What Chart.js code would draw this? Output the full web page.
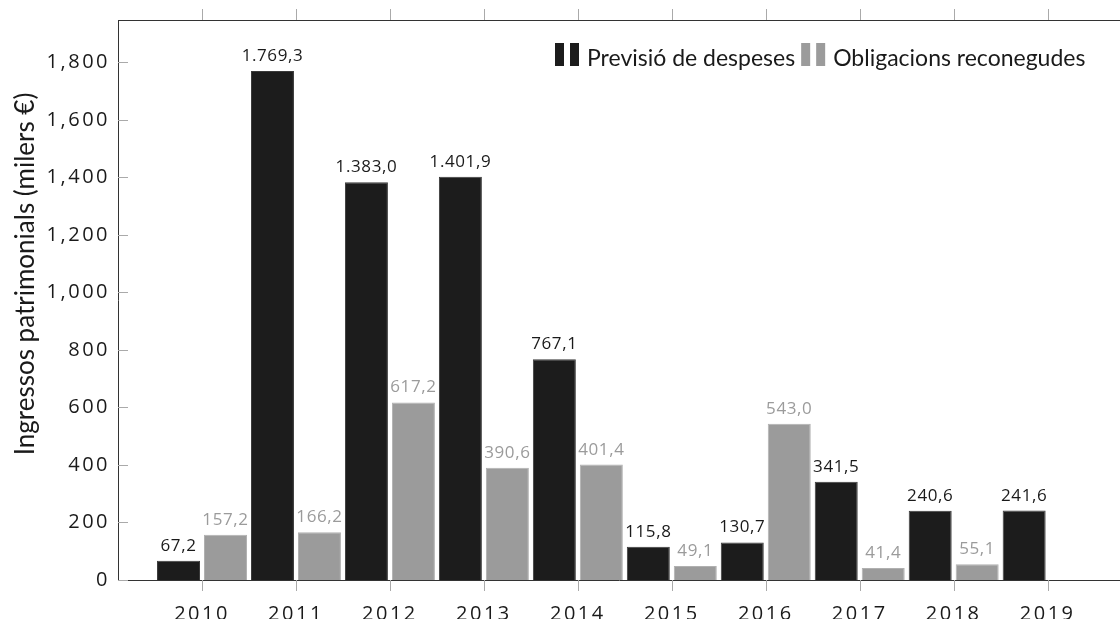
<!DOCTYPE html>
<html>
<head>
<meta charset="utf-8">
<script src="https://cdn.jsdelivr.net/npm/chart.js@4"></script>
<style>
  html, body { margin: 0; padding: 0; background: #fff; }
  #wrap { width: 1120px; height: 619px; position: relative; }
</style>
</head>
<body>
<div id="wrap"><canvas id="grafic"></canvas></div>
<script>
// dades
const anys = [2010, 2011, 2012, 2013, 2014, 2015, 2016, 2017, 2018, 2019];
const previsio = [67.2, 1769.3, 1383.0, 1401.9, 767.1, 115.8, 130.7, 341.5, 240.6, 241.6];
const obligacions = [157.2, 166.2, 617.2, 390.6, 401.4, 49.1, 543.0, 41.4, 55.1, null];
const ticksY = [0, 200, 400, 600, 800, 1000, 1200, 1400, 1600, 1800];
const nomsSeries = ['Previsió de despeses', 'Obligacions reconegudes'];
const titolY = 'Ingressos patrimonials (milers €)';

const NEGRE = '#1c1c1c';
const GRIS = '#9b9b9b';
const fontNum = '"Open Sans", sans-serif';
const fontText = 'Lato, sans-serif';

// 1.769,3
function formatCat(v) {
    const parts = v.toFixed(1).split('.');
    const enter = parts[0].replace(/\B(?=(\d{3})+(?!\d))/g, '.');
    return enter + ',' + parts[1];
}

// espaiat de les xifres dels eixos
const espaiat = {
    id: 'espaiat',
    beforeDraw(chart) { chart.ctx.letterSpacing = '2.5px'; },
    afterDraw(chart) { chart.ctx.letterSpacing = '0px'; }
};

// eixos, marques i etiquetes dibuixades a mà
const extres = {
    id: 'extres',
    afterDatasetsDraw(chart) {
        const ctx = chart.ctx;
        const area = chart.chartArea;
        const x = chart.scales.x;
        const y = chart.scales.y;
        ctx.save();

        // línia superior
        ctx.strokeStyle = '#333';
        ctx.lineWidth = 1;
        ctx.beginPath();
        ctx.moveTo(area.left, area.top + 0.5);
        ctx.lineTo(area.right, area.top + 0.5);
        ctx.stroke();

        // marques
        ctx.strokeStyle = '#aaa';
        ctx.beginPath();
        anys.forEach(a => {
            const px = Math.round(x.getPixelForValue(a)) + 0.5;
            ctx.moveTo(px, area.top - 11);
            ctx.lineTo(px, area.top);
            ctx.moveTo(px, area.bottom);
            ctx.lineTo(px, area.bottom + 11);
        });
        ticksY.forEach(v => {
            const py = Math.round(y.getPixelForValue(v)) + 0.5;
            ctx.moveTo(area.left, py);
            ctx.lineTo(area.left + 10, py);
        });
        ctx.stroke();

        // etiquetes de valor
        ctx.letterSpacing = '0.6px';
        ctx.font = '17px ' + fontNum;
        ctx.textAlign = 'center';
        ctx.textBaseline = 'alphabetic';
        chart.data.datasets.forEach((ds, i) => {
            const meta = chart.getDatasetMeta(i);
            ctx.fillStyle = i === 0 ? '#1a1a1a' : '#9b9b9b';
            meta.data.forEach((el, j) => {
                const v = ds.data[j].y;
                if (v === null) return;
                ctx.fillText(formatCat(v), el.x, el.y - 10);
            });
        });
        ctx.letterSpacing = '0px';

        // títol eix Y
        ctx.save();
        ctx.translate(34, 274);
        ctx.rotate(-Math.PI / 2);
        ctx.font = '26px ' + fontText;
        ctx.fillStyle = '#1a1a1a';
        ctx.textAlign = 'center';
        ctx.fillText(titolY, 0, 0);
        ctx.restore();

        // llegenda
        ctx.font = '23px ' + fontText;
        ctx.textAlign = 'left';
        let lx = 555;
        [NEGRE, GRIS].forEach((c, i) => {
            ctx.fillStyle = c;
            ctx.fillRect(lx, 43, 9, 23);
            ctx.fillRect(lx + 15, 43, 9, 23);
            ctx.fillStyle = '#1a1a1a';
            ctx.fillText(nomsSeries[i], lx + 32, 66);
            lx += 32 + ctx.measureText(nomsSeries[i]).width + 6;
        });

        ctx.restore();
    }
};

const ctx = document.getElementById('grafic').getContext('2d');
const grafic = new Chart(ctx, {
    type: 'bar',
    data: {
        datasets: [
            {
                label: nomsSeries[0],
                data: anys.map((a, i) => ({ x: a, y: previsio[i] })),
                backgroundColor: NEGRE,
                borderColor: '#3a3a3a',
                borderWidth: 1
            },
            {
                label: nomsSeries[1],
                data: anys.map((a, i) => ({ x: a, y: obligacions[i] })),
                backgroundColor: GRIS,
                borderColor: '#b0b0b0',
                borderWidth: 1
            }
        ]
    },
    options: {
        responsive: true,
        maintainAspectRatio: false,
        animation: false,
        categoryPercentage: 1,
        barPercentage: 0.915,
        layout: { padding: { top: 19, right: 0, left: 0, bottom: 0 } },
        plugins: {
            legend: { display: false },
            tooltip: { enabled: false }
        },
        scales: {
            x: {
                type: 'linear',
                offset: false,
                min: 2009.106,
                max: 2019.77,
                grid: { display: false, tickLength: 0 },
                border: { display: true, color: '#333', width: 1 },
                afterBuildTicks: s => { s.ticks = anys.map(v => ({ value: v })); },
                afterFit: s => { s.height = 39; },
                ticks: {
                    autoSkip: false,
                    maxRotation: 0,
                    padding: 22,
                    color: '#1a1a1a',
                    font: { family: fontNum, size: 20 },
                    callback: v => String(v)
                }
            },
            y: {
                min: 0,
                max: 1947,
                grid: { display: false, tickLength: 0 },
                border: { display: true, color: '#333', width: 1 },
                afterBuildTicks: s => { s.ticks = ticksY.map(v => ({ value: v })); },
                afterFit: s => { s.width = 118; },
                ticks: {
                    padding: 8,
                    color: '#1a1a1a',
                    font: { family: fontNum, size: 20 },
                    callback: v => v.toLocaleString('en-US')
                }
            }
        }
    },
    plugins: [espaiat, extres]
});
</script>
</body>
</html>
